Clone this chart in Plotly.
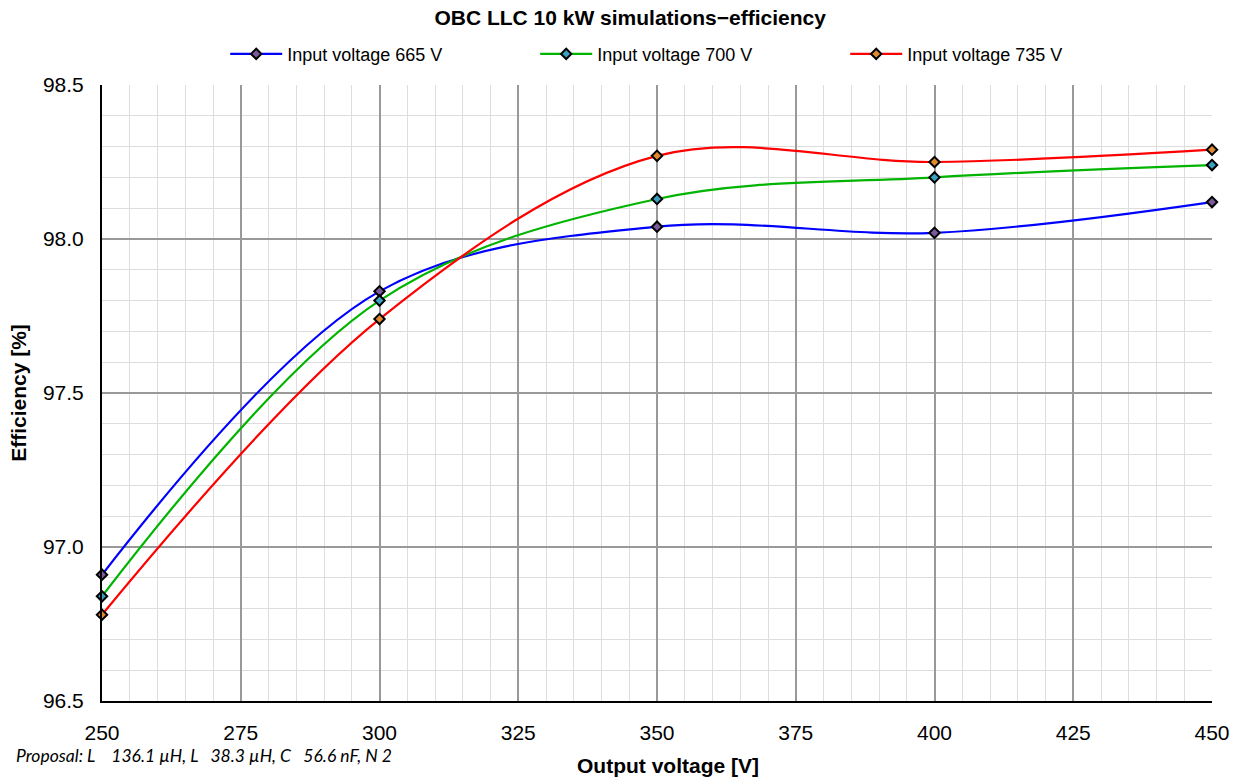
import plotly.graph_objects as go

# Output voltage sweep [V]
output_voltage = [250, 300, 350, 400, 450]

# Efficiency [%] per input voltage
eff_665 = [96.91, 97.83, 98.04, 98.02, 98.12]
eff_700 = [96.84, 97.80, 98.13, 98.20, 98.24]
eff_735 = [96.78, 97.74, 98.27, 98.25, 98.29]

series_names = ["Input voltage 665 V", "Input voltage 700 V", "Input voltage 735 V"]
line_colors = ["#0000ff", "#00b400", "#ff0000"]
marker_fills = ["#7a5a9a", "#3aa0c0", "#e08a30"]

x_ticks = [250, 275, 300, 325, 350, 375, 400, 425, 450]
y_ticks = [96.5, 97.0, 97.5, 98.0, 98.5]

fig = go.Figure()
for name, ys, lc, mf in zip(series_names, [eff_665, eff_700, eff_735], line_colors, marker_fills):
    fig.add_trace(go.Scatter(
        x=output_voltage, y=ys, name=name,
        mode="lines+markers",
        line=dict(color=lc, width=2.2, shape="spline", smoothing=1.0),
        marker=dict(symbol="diamond", size=8, color=mf,
                    line=dict(color="black", width=2)),
        cliponaxis=False,
    ))

font_main = "Liberation Sans, Arial, sans-serif"

fig.update_layout(
    width=1238, height=781,
    margin=dict(l=102, r=26, t=85, b=80),
    paper_bgcolor="white", plot_bgcolor="white",
    font=dict(family=font_main, size=20, color="black"),
    title=dict(text="<b>OBC LLC 10 kW simulations−efficiency</b>",
               x=0.509, xanchor="center", y=0.977, yanchor="middle",
               font=dict(size=21)),
    legend=dict(orientation="h", x=0.111, xanchor="left", y=1.02, yanchor="bottom",
                font=dict(size=18), entrywidth=243, itemwidth=52,
                bgcolor="rgba(0,0,0,0)"),
    showlegend=True,
)

fig.update_xaxes(
    range=[250, 450], tickvals=x_ticks,
    showgrid=True, gridcolor="#999999", gridwidth=2,
    minor=dict(dtick=5, showgrid=True, gridcolor="#dddddd", gridwidth=1),
    showline=True, linecolor="black", linewidth=2,
    zeroline=False, ticks="", tickfont=dict(size=21), ticklabelstandoff=12,
    automargin=False,
)
fig.update_yaxes(
    range=[96.5, 98.5], tickvals=y_ticks, tickformat=".1f",
    showgrid=True, gridcolor="#999999", gridwidth=2,
    minor=dict(dtick=0.1, showgrid=True, gridcolor="#dddddd", gridwidth=1),
    showline=True, linecolor="black", linewidth=2,
    zeroline=False, ticks="", tickfont=dict(size=21), ticklabelstandoff=12,
    title=dict(text="<b>Efficiency [%]</b>", font=dict(size=21), standoff=11),
    automargin=False,
)

# x-axis title
fig.add_annotation(
    text="<b>Output voltage [V]</b>",
    xref="paper", yref="paper", x=0.51, y=-0.1055,
    xanchor="center", yanchor="middle", showarrow=False,
    font=dict(family=font_main, size=21, color="black"),
)

fig.add_annotation(
    text="<i>Proposal: L    136.1 µH, L   38.3 µH, C   56.6 nF, N 2</i>",
    xref="paper", yref="paper", x=-0.079, y=-0.089,
    xanchor="left", yanchor="middle", showarrow=False,
    font=dict(family="Lato, sans-serif", size=17.5, color="black"),
)

fig.write_html("out.html")
